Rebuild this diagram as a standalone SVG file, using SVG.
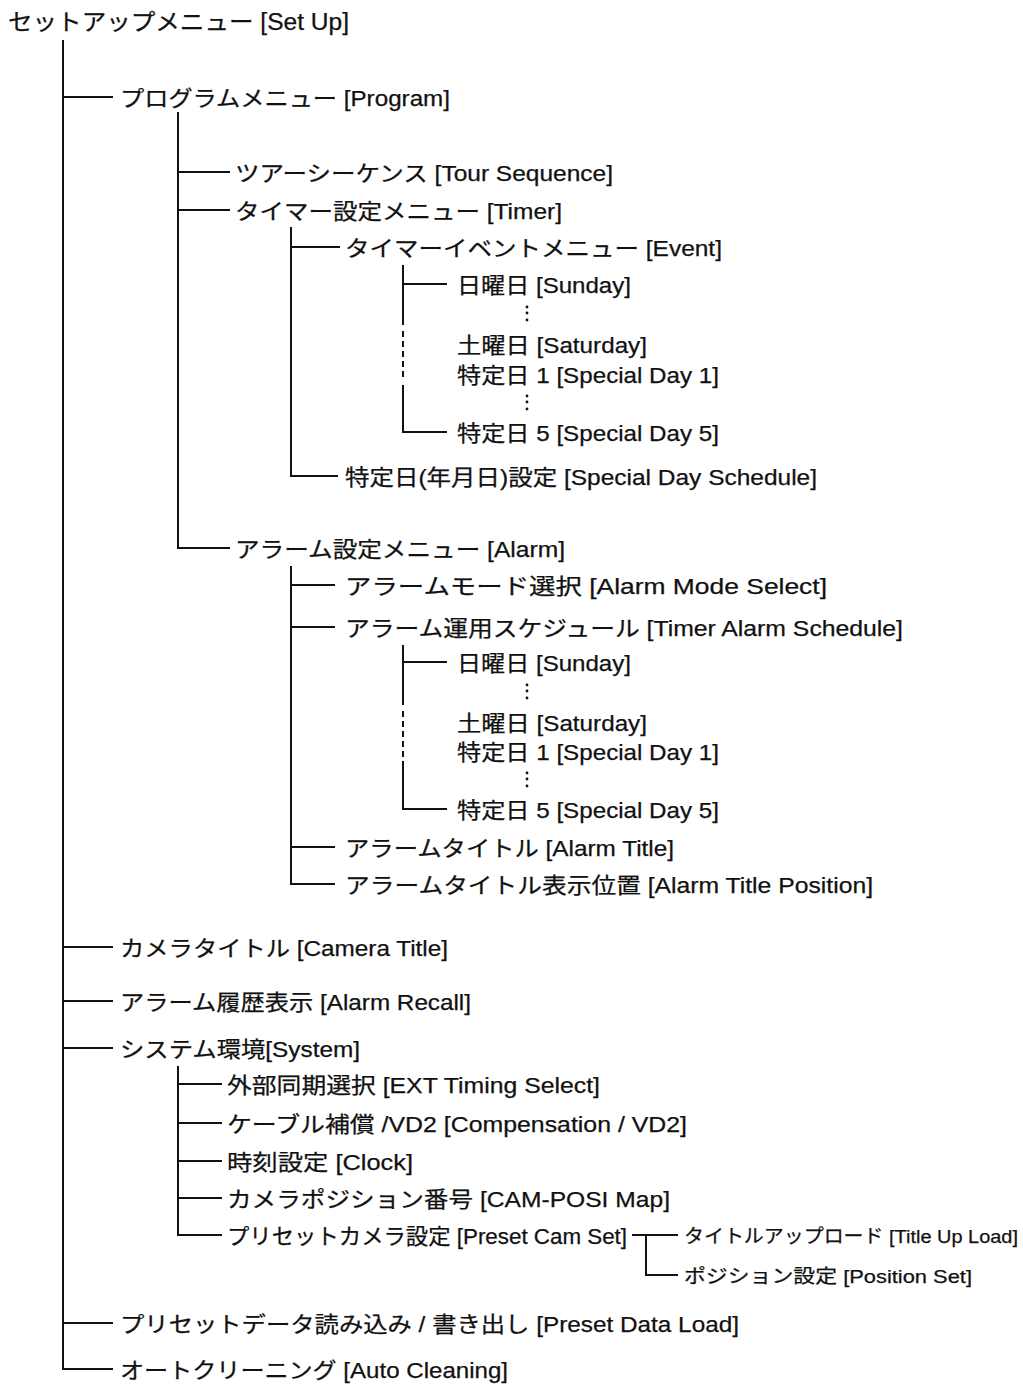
<svg xmlns="http://www.w3.org/2000/svg" width="1023" height="1385" viewBox="0 0 1023 1385">
<style>
text{font-family:"Liberation Sans","Noto Sans CJK JP",sans-serif;font-size:22px;fill:#111;stroke:#111;stroke-width:0.25;}
.title{font-size:23px;}
.sm{font-size:19px;}
.c{fill:none;stroke:#111;stroke-width:2;}
.d{fill:none;stroke:#111;stroke-width:2;stroke-dasharray:6 4;}
.dot{fill:#111;}
</style>
<rect width="1023" height="1385" fill="#fff"/>
<g id="connectors">
<path class="c" d="M63 40 V1369 H113"/>
<path class="c" d="M63 97 H113 M63 947 H113 M63 1001 H113 M63 1048 H113 M63 1323 H113"/>
<path class="c" d="M178 112 V548 H230 M178 172 H230 M178 210 H230"/>
<path class="c" d="M291 227 V476 H338 M291 247 H340"/>
<path class="c" d="M403 265 V325 M403 284 H447 M403 385 V432 H447"/>
<path class="d" d="M403 331 V381"/>
<path class="c" d="M291 566 V884 H335 M291 585 H335 M291 627 H335 M291 847 H335"/>
<path class="c" d="M403 645 V705 M403 662 H447 M403 761 V809 H447"/>
<path class="d" d="M403 711 V757"/>
<path class="c" d="M178 1066 V1235 H222 M178 1084 H222 M178 1123 H222 M178 1161 H222 M178 1198 H222"/>
<path class="c" d="M632 1235 H678 M646 1235 V1275 H678"/>
</g>
<g id="n-setup"><text class="title" x="8" y="30" textLength="341" lengthAdjust="spacingAndGlyphs">セットアップメニュー  [Set Up]</text></g>
<g id="n-program"><text x="120" y="106" textLength="330" lengthAdjust="spacingAndGlyphs">プログラムメニュー [Program]</text></g>
<g id="n-tour"><text x="235" y="181" textLength="378" lengthAdjust="spacingAndGlyphs">ツアーシーケンス [Tour Sequence]</text></g>
<g id="n-timer"><text x="235" y="219" textLength="327" lengthAdjust="spacingAndGlyphs">タイマー設定メニュー  [Timer]</text></g>
<g id="n-event"><text x="345" y="256" textLength="377" lengthAdjust="spacingAndGlyphs">タイマーイベントメニュー  [Event]</text></g>
<g id="n-ev-sun"><text x="457" y="293" textLength="174" lengthAdjust="spacingAndGlyphs">日曜日 [Sunday]</text></g>
<g id="n-ev-dots1"><circle class="dot" cx="527" cy="307" r="1.4"/><circle class="dot" cx="527" cy="313" r="1.4"/><circle class="dot" cx="527" cy="320" r="1.4"/></g>
<g id="n-ev-sat"><text x="457" y="353" textLength="190" lengthAdjust="spacingAndGlyphs">土曜日 [Saturday]</text></g>
<g id="n-ev-sd1"><text x="457" y="383" textLength="262" lengthAdjust="spacingAndGlyphs">特定日 1 [Special Day 1]</text></g>
<g id="n-ev-dots2"><circle class="dot" cx="527" cy="396" r="1.4"/><circle class="dot" cx="527" cy="402" r="1.4"/><circle class="dot" cx="527" cy="409" r="1.4"/></g>
<g id="n-ev-sd5"><text x="457" y="441" textLength="262" lengthAdjust="spacingAndGlyphs">特定日 5 [Special Day 5]</text></g>
<g id="n-sds"><text x="345" y="485" textLength="472" lengthAdjust="spacingAndGlyphs">特定日(年月日)設定  [Special Day Schedule]</text></g>
<g id="n-alarm"><text x="235" y="557" textLength="330" lengthAdjust="spacingAndGlyphs">アラーム設定メニュー  [Alarm]</text></g>
<g id="n-ams"><text x="345" y="594" textLength="482" lengthAdjust="spacingAndGlyphs">アラームモード選択  [Alarm Mode Select]</text></g>
<g id="n-tas"><text x="345" y="636" textLength="558" lengthAdjust="spacingAndGlyphs">アラーム運用スケジュール  [Timer Alarm Schedule]</text></g>
<g id="n-al-sun"><text x="457" y="671" textLength="174" lengthAdjust="spacingAndGlyphs">日曜日 [Sunday]</text></g>
<g id="n-al-dots1"><circle class="dot" cx="527" cy="685" r="1.4"/><circle class="dot" cx="527" cy="691" r="1.4"/><circle class="dot" cx="527" cy="698" r="1.4"/></g>
<g id="n-al-sat"><text x="457" y="731" textLength="190" lengthAdjust="spacingAndGlyphs">土曜日 [Saturday]</text></g>
<g id="n-al-sd1"><text x="457" y="760" textLength="262" lengthAdjust="spacingAndGlyphs">特定日 1 [Special Day 1]</text></g>
<g id="n-al-dots2"><circle class="dot" cx="527" cy="773" r="1.4"/><circle class="dot" cx="527" cy="779" r="1.4"/><circle class="dot" cx="527" cy="786" r="1.4"/></g>
<g id="n-al-sd5"><text x="457" y="818" textLength="262" lengthAdjust="spacingAndGlyphs">特定日 5 [Special Day 5]</text></g>
<g id="n-atitle"><text x="345" y="856" textLength="329" lengthAdjust="spacingAndGlyphs">アラームタイトル [Alarm Title]</text></g>
<g id="n-atpos"><text x="345" y="893" textLength="528" lengthAdjust="spacingAndGlyphs">アラームタイトル表示位置  [Alarm Title Position]</text></g>
<g id="n-camtitle"><text x="120" y="956" textLength="328" lengthAdjust="spacingAndGlyphs">カメラタイトル [Camera Title]</text></g>
<g id="n-recall"><text x="120" y="1010" textLength="351" lengthAdjust="spacingAndGlyphs">アラーム履歴表示 [Alarm Recall]</text></g>
<g id="n-system"><text x="120" y="1057" textLength="240" lengthAdjust="spacingAndGlyphs">システム環境[System]</text></g>
<g id="n-ext"><text x="227" y="1093" textLength="373" lengthAdjust="spacingAndGlyphs">外部同期選択 [EXT Timing Select]</text></g>
<g id="n-comp"><text x="227" y="1132" textLength="460" lengthAdjust="spacingAndGlyphs">ケーブル補償 /VD2 [Compensation / VD2]</text></g>
<g id="n-clock"><text x="227" y="1170" textLength="186" lengthAdjust="spacingAndGlyphs">時刻設定 [Clock]</text></g>
<g id="n-camposi"><text x="227" y="1207" textLength="443" lengthAdjust="spacingAndGlyphs">カメラポジション番号 [CAM-POSI Map]</text></g>
<g id="n-presetcam"><text x="227" y="1244" textLength="400" lengthAdjust="spacingAndGlyphs">プリセットカメラ設定 [Preset Cam Set]</text></g>
<g id="n-titleup"><text class="sm" x="684" y="1243" textLength="334" lengthAdjust="spacingAndGlyphs">タイトルアップロード [Title Up Load]</text></g>
<g id="n-posset"><text class="sm" x="684" y="1283" textLength="288" lengthAdjust="spacingAndGlyphs">ポジション設定 [Position Set]</text></g>
<g id="n-pdl"><text x="120" y="1332" textLength="619" lengthAdjust="spacingAndGlyphs">プリセットデータ読み込み / 書き出し [Preset Data Load]</text></g>
<g id="n-autoclean"><text x="120" y="1378" textLength="388" lengthAdjust="spacingAndGlyphs">オートクリーニング [Auto Cleaning]</text></g>
</svg>
